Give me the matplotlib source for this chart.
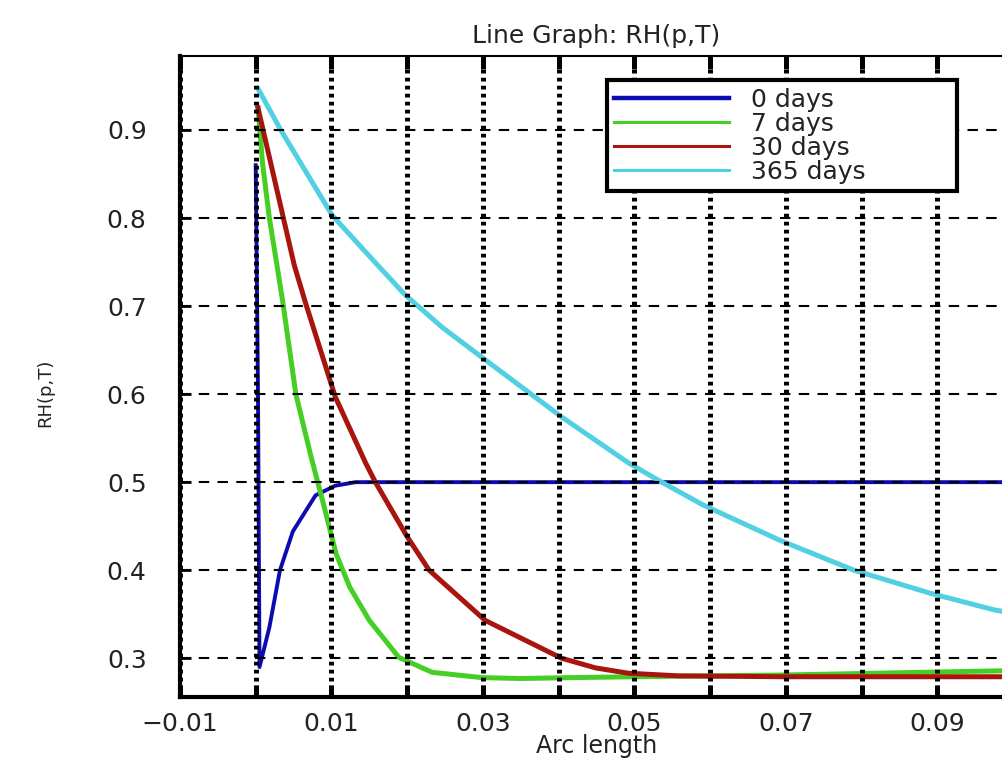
import numpy as np
import matplotlib
matplotlib.use("Agg")
import matplotlib.pyplot as plt

# values
x_0d = [0.0, 0.0003, 0.0005, 0.0018, 0.0032, 0.0049, 0.0079, 0.0105, 0.0132, 0.1]
rh_0d = [0.86, 0.60, 0.29, 0.335, 0.40, 0.444, 0.485, 0.496, 0.50, 0.50]

x_7d = [0.0003, 0.0009, 0.0018, 0.0027, 0.0036, 0.0053, 0.0073, 0.0088, 0.0106, 0.0124,
        0.015, 0.0189, 0.0233, 0.0299, 0.035, 0.0417, 0.05, 0.07, 0.1]
rh_7d = [0.925, 0.862, 0.80, 0.752, 0.703, 0.60, 0.529, 0.48, 0.419, 0.381,
         0.343, 0.301, 0.284, 0.278, 0.277, 0.278, 0.279, 0.281, 0.286]

x_30d = [0.0003, 0.0051, 0.0066, 0.0105, 0.0145, 0.0158, 0.020, 0.0229, 0.0303,
         0.0404, 0.0449, 0.0492, 0.0558, 0.07, 0.1]
rh_30d = [0.925, 0.746, 0.703, 0.597, 0.522, 0.500, 0.438, 0.40, 0.343,
          0.30, 0.289, 0.283, 0.280, 0.279, 0.279]

x_365d = [0.0003, 0.0033, 0.0101, 0.0154, 0.0197, 0.0246, 0.0303, 0.0404, 0.0492, 0.0532,
          0.0591, 0.0692, 0.079, 0.089, 0.0975, 0.1]
rh_365d = [0.947, 0.90, 0.803, 0.753, 0.713, 0.676, 0.639, 0.574, 0.522, 0.502,
           0.474, 0.434, 0.40, 0.374, 0.355, 0.351]

labels = ['0 days', '7 days', '30 days', '365 days']
colors = ['#0b0bb0', '#45cf24', '#a8150f', '#50d0e2']

xticks = [-0.01, 0.0, 0.01, 0.02, 0.03, 0.04, 0.05, 0.06, 0.07, 0.08, 0.09, 0.1]
xticklabels = ['\u22120.01', '', '0.01', '', '0.03', '', '0.05', '', '0.07', '', '0.09', '']
yticks = [0.3, 0.4, 0.5, 0.6, 0.7, 0.8, 0.9]

fig = plt.figure(figsize=(10.03, 7.6), dpi=100)
ax = fig.add_axes([180 / 1003, 63 / 760, 833 / 1003, 641 / 760])

ax.plot(x_0d, rh_0d, color=colors[0], lw=2.8, label=labels[0])
ax.plot(x_7d, rh_7d, color=colors[1], lw=3.6, label=labels[1])
ax.plot(x_30d, rh_30d, color=colors[2], lw=3.6, label=labels[2])
ax.plot(x_365d, rh_365d, color=colors[3], lw=3.6, label=labels[3])

ax.set_xlim(-0.0096, 0.1)
ax.set_ylim(0.256, 0.984)
ax.set_xticks(xticks)
ax.set_xticklabels(xticklabels)
ax.set_yticks(yticks)
ax.set_yticklabels(['%.1f' % v for v in yticks])

ax.set_axisbelow(False)
ax.xaxis.grid(True, color='black', lw=3.6, linestyle=(0, (0.75, 0.85)))
ax.yaxis.grid(True, color='black', lw=1.5, linestyle=(0, (5, 4)))

for side in ['left', 'bottom']:
    ax.spines[side].set_linewidth(3)
ax.spines['top'].set_linewidth(1.5)
ax.spines['right'].set_visible(False)

ax.tick_params(axis='x', direction='in', length=9, width=3.6, top=True,
               labelsize=18, pad=11)
ax.tick_params(axis='y', direction='in', length=8, width=2,
               labelsize=18, pad=24)
for t in ax.get_xticklabels() + ax.get_yticklabels():
    t.set_color('#222222')

ax.set_title('Line Graph: RH(p,T)', fontsize=18, pad=9, color='#222222')
ax.set_xlabel('Arc length', fontsize=17, color='#222222')
ax.xaxis.label.set_va('bottom')
ax.xaxis.set_label_coords(0.5, -0.095)
ax.set_ylabel('RH(p,T)', fontsize=13, color='#222222')
ax.yaxis.set_label_coords(-0.151, 0.474)

leg = ax.legend(loc='upper left',
                bbox_to_anchor=(607 / 1003, 1 - 195 / 760, 350 / 1003, 115 / 760),
                bbox_transform=fig.transFigure, mode='expand', borderaxespad=0,
                fontsize=18, handlelength=4.6, handletextpad=0.85, labelspacing=0.0,
                borderpad=0.3, fancybox=False, framealpha=1, edgecolor='black')
leg.get_frame().set_linewidth(3)
for ln, w in zip(leg.get_lines(), [3.2, 2.2, 2.2, 2.2]):
    ln.set_linewidth(w)
for t in leg.get_texts():
    t.set_color('#222222')

fig.savefig('out.png', dpi=100)
